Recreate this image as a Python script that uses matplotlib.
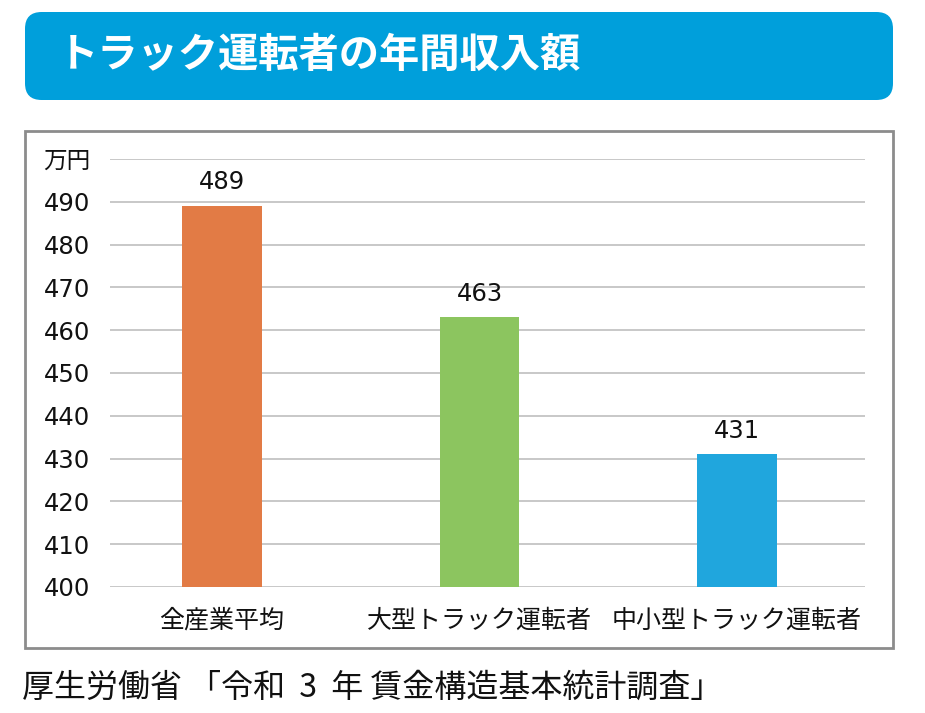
import matplotlib
matplotlib.use("Agg")
import matplotlib.pyplot as plt
from matplotlib.patches import FancyBboxPatch, Rectangle

plt.rcParams['font.family'] = ['Noto Sans CJK JP', 'DejaVu Sans']

categories = ['全産業平均', '大型トラック運転者', '中小型トラック運転者']
values = [489, 463, 431]
bar_colors = ['#E27B45', '#8CC55F', '#20A6DD']
yticks = [400, 410, 420, 430, 440, 450, 460, 470, 480, 490]
title = 'トラック運転者の年間収入額'
unit = '万円'
source = '厚生労働省 「令和  3  年 賃金構造基本統計調査」'

W, H = 925, 713
fig = plt.figure(figsize=(W / 100, H / 100), dpi=100)

def fx(px):
    return px / W

def fy(py):
    return 1 - py / H

# Title banner
banner = FancyBboxPatch((fx(25), fy(100)), fx(893) - fx(25), fy(12) - fy(100),
                        boxstyle="round,pad=0,rounding_size=0.018",
                        transform=fig.transFigure, facecolor='#009FDB',
                        edgecolor='none', mutation_aspect=W / H, zorder=-2)
fig.patches.append(banner)
fig.text(fx(58), fy(55), title, color='white', fontsize=29, fontweight='bold',
         va='center', ha='left')

# Chart border
border = Rectangle((fx(25), fy(648)), fx(893) - fx(25), fy(131) - fy(648),
                   transform=fig.transFigure, facecolor='none',
                   edgecolor='#8C8C8C', linewidth=2, zorder=-2)
fig.patches.append(border)

# Axes
left, right = 110, 865
top, bottom = 159, 587
ax = fig.add_axes([fx(left), fy(bottom), fx(right) - fx(left), fy(top) - fy(bottom)])
ax.set_facecolor('none')
x = list(range(len(categories)))
ax.bar(x, [v - 400 for v in values], bottom=400, width=0.31, color=bar_colors, zorder=3)
ax.set_ylim(400, 500)
ax.set_xlim(-0.435, 2.497)
ax.set_yticks(yticks + [500])
ax.set_yticklabels([str(t) for t in yticks] + [unit])
for lab in ax.get_yticklabels()[:-1]:
    lab.set_family('DejaVu Sans')
    lab.set_fontsize(17.5)
ax.get_yticklabels()[-1].set_fontsize(17)
for sp in ax.spines.values():
    sp.set_visible(False)
ax.yaxis.grid(True, color='#BFBFBF', linewidth=1.2, zorder=0)
ax.set_axisbelow(True)
ax.tick_params(axis='y', length=0, pad=14, labelcolor='#111111')
ax.tick_params(axis='x', length=0, pad=15, labelsize=18, labelcolor='#111111')
ax.set_xticks(x)
ax.set_xticklabels(categories)
for xi, v in zip(x, values):
    ax.annotate(str(v), (xi, v), xytext=(0, 17), textcoords='offset points',
                ha='center', va='center', fontsize=17.5, color='#111111',
                family='DejaVu Sans')

fig.text(fx(22), fy(688), source, fontsize=23, color='#111111', va='center', ha='left')

fig.savefig('out.png', dpi=100)
